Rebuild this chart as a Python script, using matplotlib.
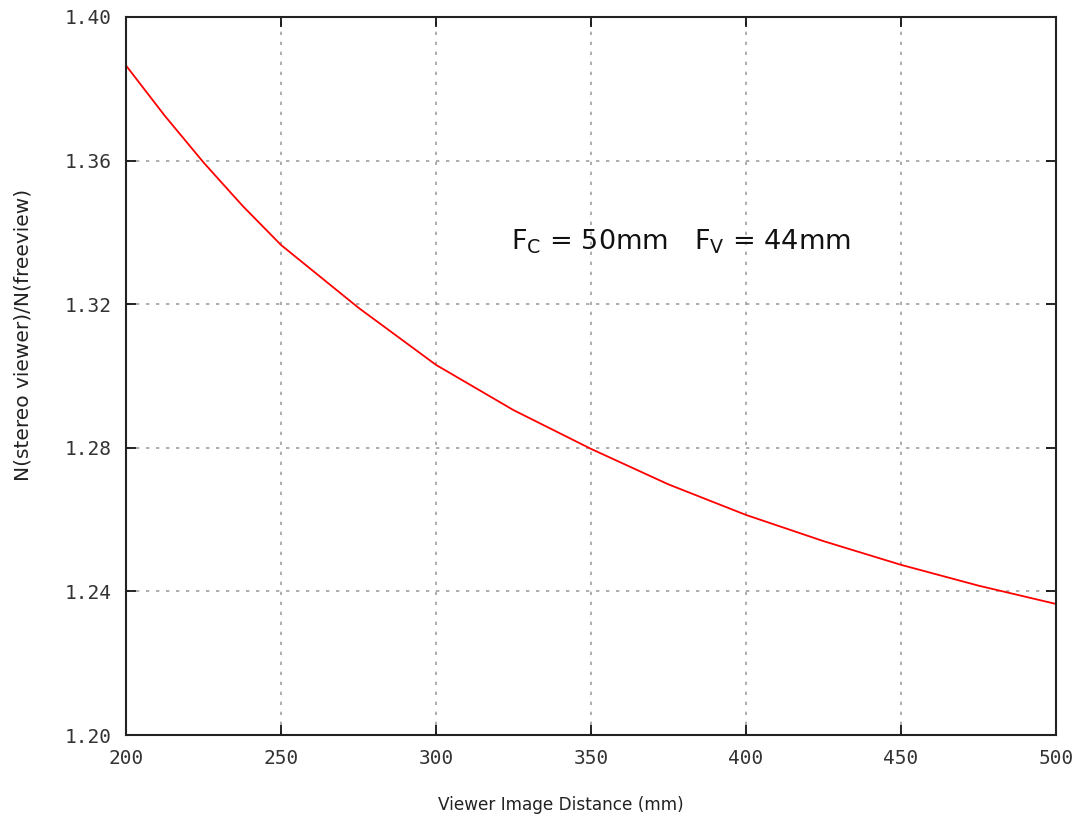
import numpy as np
import matplotlib
matplotlib.use('Agg')
from matplotlib import pyplot as plt

#%% DATA
distance = [200, 212.5, 225, 237.5, 250, 275, 300, 325, 350, 375, 400, 425, 450, 475, 500]
ratio = [1.3865, 1.3725, 1.3595, 1.3475, 1.3365, 1.3190, 1.3031, 1.2905, 1.2797,
         1.2698, 1.2613, 1.2540, 1.2474, 1.2416, 1.2365]

xticks = [200, 250, 300, 350, 400, 450, 500]
yticks = [1.20, 1.24, 1.28, 1.32, 1.36, 1.40]

#%% PLOT
fig = plt.figure(figsize=(10.85, 8.24), dpi=100)
ax = fig.add_axes([0.1161, 0.108, 0.8572, 0.8714])

ax.plot(distance, ratio, color='red', lw=1.3)

ax.set_xlim(200, 500)
ax.set_ylim(1.20, 1.40)
ax.set_xticks(xticks)
ax.set_yticks(yticks)
ax.set_xticklabels([str(t) for t in xticks], family='DejaVu Sans Mono', fontsize=14, color='#333333')
ax.set_yticklabels(['%.2f' % t for t in yticks], family='DejaVu Sans Mono', fontsize=14, color='#333333')
ax.tick_params(direction='in', top=True, right=True, length=7, width=1.2, pad=10)

ax.grid(True, color='#a0a0a0', linestyle=(0, (2, 4)), lw=1.2)
for s in ax.spines.values():
    s.set_linewidth(1.5)
    s.set_color('#222222')

ax.set_xlabel('Viewer Image Distance (mm)', fontsize=12.2, color='#222222')
ax.xaxis.set_label_coords(0.468, -0.085)
ax.set_ylabel('N(stereo viewer)/N(freeview)', fontsize=14.5, color='#222222')
ax.yaxis.set_label_coords(-0.101, 0.557)

ax.text(379, 1.3375, r'F$_\mathrm{C}$ = 50mm   F$_\mathrm{V}$ = 44mm',
        fontsize=19.5, ha='center', va='center', color='#111111')

plt.savefig('out.png', dpi=100)
